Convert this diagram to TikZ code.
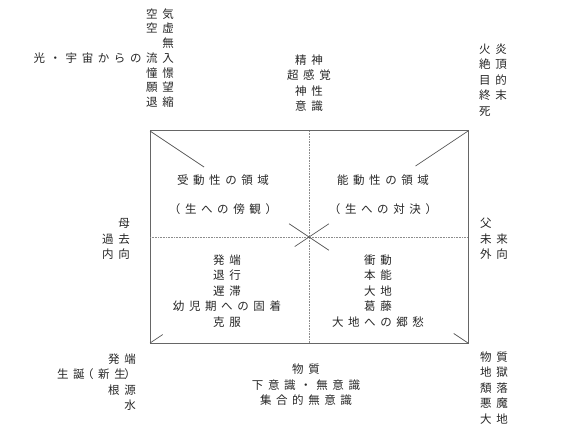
\documentclass[tikz,border=0pt]{standalone}
\usepackage{fontspec}
\newfontfamily\jp[LetterSpace=40]{Noto Sans CJK JP}
\usetikzlibrary{calc}

\begin{document}
\begin{tikzpicture}[x=1pt, y=-1pt,
    label/.style={inner sep=0pt, text=black!85, font=\jp\fontsize{11.5}{15.5}\selectfont},
    frame/.style={draw=black!60, line width=1pt},
    axis/.style={draw=black!45, densely dotted, line width=0.6pt},
    diag/.style={draw=black!65, line width=0.7pt}]
\useasboundingbox (0,0) rectangle (570,433);

% Constants
\def\boxLeft{150} % Left edge of the square
\def\boxRight{468} % Right edge of the square
\def\boxTop{131} % Top edge of the square
\def\boxBottom{343} % Bottom edge of the square

% Corners and middle of the square
\coordinate (tl) at (\boxLeft, \boxTop);
\coordinate (tr) at (\boxRight, \boxTop);
\coordinate (bl) at (\boxLeft, \boxBottom);
\coordinate (br) at (\boxRight, \boxBottom);
\coordinate (c) at ($(tl)!0.5!(br)$);

% Draw the square and the two dotted axes
\draw[frame] (tl) rectangle (br);
\draw[axis] ($(tl)!0.5!(tr)$) -- ($(bl)!0.5!(br)$);
\draw[axis] ($(tl)!0.5!(bl)$) -- ($(tr)!0.5!(br)$);

% Pieces of the diagonals at the corners
\foreach \corner/\len in {tl/0.34, tr/0.33, bl/0.08, br/0.09} {
    \draw[diag] (\corner) -- ($(\corner)!\len!(c)$);
}
% Cross in the middle
\draw[diag] ($(c)!0.125!(tl)$) -- ($(c)!0.125!(br)$);
\draw[diag] ($(c)!0.09!(bl)$) -- ($(c)!0.125!(tr)$);

% Texts in the four fields
\node[label, align=center] (passive) at (223, 194.5) {受動性の領域\\[14pt]（生への傍観）};
\node[label, align=center] (active) at (383, 194.5) {能動性の領域\\[14pt]（生への対決）};
\node[label, align=center] (regress) at (227, 291) {発端\\退行\\遅滞\\幼児期への固着\\克服};
\node[label, align=center] (drive) at (378, 291) {衝動\\本能\\大地\\葛藤\\大地への郷愁};

% Texts round the square
\node[label, align=right, anchor=east, font=\jp\fontsize{11.5}{14.7}\selectfont] (light) at (174, 58) {空気\\空虚\\無\\光・宇宙からの流入\\憧憬\\願望\\退縮};
\node[label, align=center] (spirit) at (309, 83) {精神\\超感覚\\神性\\意識};
\node[label, align=left, anchor=west] (fire) at (479, 80) {火炎\\絶頂\\目的\\終末\\死};
\node[label, align=right, anchor=east] (mother) at (130, 239) {母\\過去\\内向};
\node[label, align=left, anchor=west] (father) at (480, 239) {父\\未来\\外向};
\node[label, align=right, anchor=east] (water) at (136, 382) {発端\\生誕\kern-2.5pt（新生\kern-1.5pt）\\根源\\水};
\node[label, align=center] (matter) at (306, 385) {物質\\下意識・無意識\\集合的無意識};
\node[label, align=left, anchor=west] (earth) at (480, 388) {物質\\地獄\\頽落\\悪魔\\大地};

\end{tikzpicture}
\end{document}
